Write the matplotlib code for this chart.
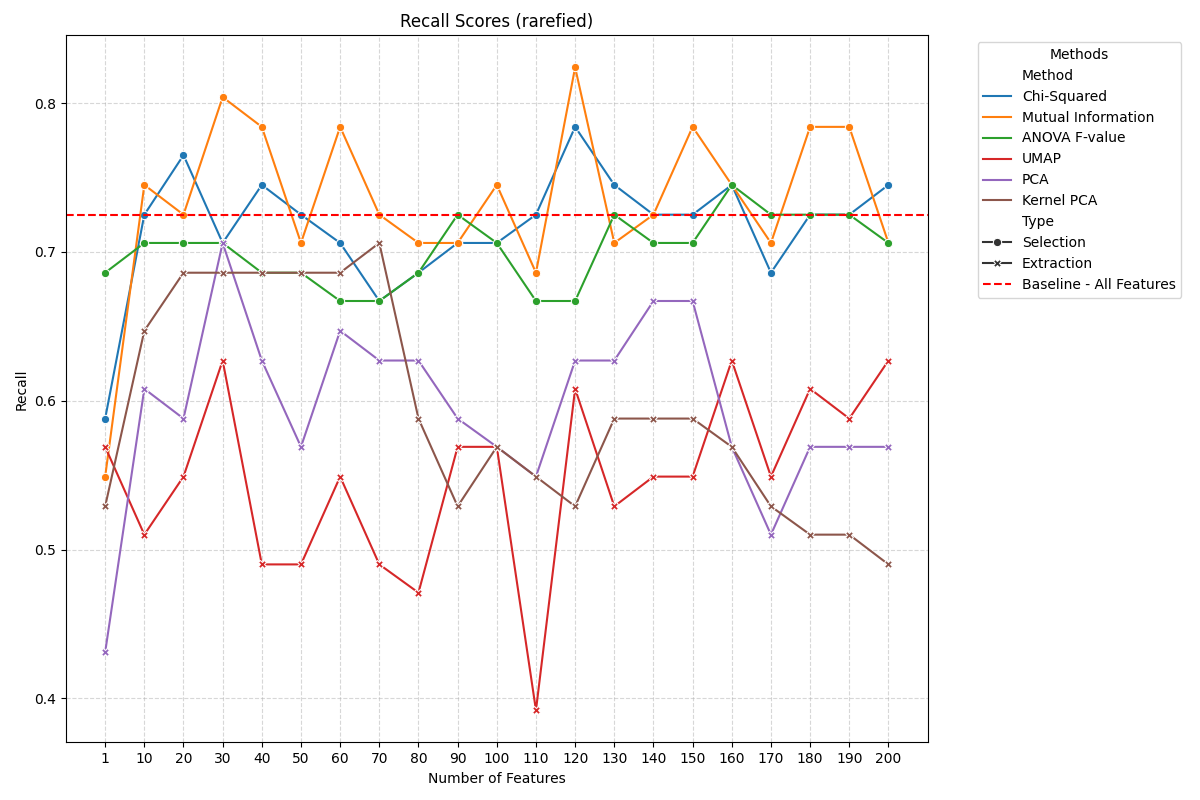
import numpy as np
import pandas as pd
import matplotlib
matplotlib.use("Agg")
import matplotlib.pyplot as plt
import seaborn as sns

n_features = [1, 10, 20, 30, 40, 50, 60, 70, 80, 90, 100, 110, 120, 130, 140, 150, 160, 170, 180, 190, 200]

chi_squared = [0.588, 0.725, 0.765, 0.706, 0.745, 0.725, 0.706, 0.667, 0.686, 0.706, 0.706,
               0.725, 0.784, 0.745, 0.725, 0.725, 0.745, 0.686, 0.725, 0.725, 0.745]
mutual_info = [0.549, 0.745, 0.725, 0.804, 0.784, 0.706, 0.784, 0.725, 0.706, 0.706, 0.745,
               0.686, 0.824, 0.706, 0.725, 0.784, 0.745, 0.706, 0.784, 0.784, 0.706]
anova = [0.686, 0.706, 0.706, 0.706, 0.686, 0.686, 0.667, 0.667, 0.686, 0.725, 0.706,
         0.667, 0.667, 0.725, 0.706, 0.706, 0.745, 0.725, 0.725, 0.725, 0.706]
umap = [0.569, 0.510, 0.549, 0.627, 0.490, 0.490, 0.549, 0.490, 0.471, 0.569, 0.569,
        0.392, 0.608, 0.529, 0.549, 0.549, 0.627, 0.549, 0.608, 0.588, 0.627]
pca = [0.431, 0.608, 0.588, 0.706, 0.627, 0.569, 0.647, 0.627, 0.627, 0.588, 0.569,
       0.549, 0.627, 0.627, 0.667, 0.667, 0.569, 0.510, 0.569, 0.569, 0.569]
kernel_pca = [0.529, 0.647, 0.686, 0.686, 0.686, 0.686, 0.686, 0.706, 0.588, 0.529, 0.569,
              0.549, 0.529, 0.588, 0.588, 0.588, 0.569, 0.529, 0.510, 0.510, 0.490]

baseline = 0.725

methods = {
    "Chi-Squared": (chi_squared, "Selection"),
    "Mutual Information": (mutual_info, "Selection"),
    "ANOVA F-value": (anova, "Selection"),
    "UMAP": (umap, "Extraction"),
    "PCA": (pca, "Extraction"),
    "Kernel PCA": (kernel_pca, "Extraction"),
}

rows = []
for name, (vals, kind) in methods.items():
    for i, v in enumerate(vals):
        rows.append({"pos": i, "Recall": v, "Method": name, "Type": kind})
df = pd.DataFrame(rows)

fig, ax = plt.subplots(figsize=(12, 8), dpi=100)
sns.lineplot(data=df, x="pos", y="Recall", hue="Method", style="Type",
             markers=True, dashes=False, ax=ax)
ax.axhline(baseline, color="red", linestyle="--", linewidth=1.5, label="Baseline - All Features")

ax.set_xticks(range(len(n_features)))
ax.set_xticklabels([str(n) for n in n_features])
ax.set_title("Recall Scores (rarefied)")
ax.set_xlabel("Number of Features")
ax.set_ylabel("Recall")
ax.grid(True, linestyle="--", alpha=0.5)
ax.legend(title="Methods", bbox_to_anchor=(1.05, 1), loc="upper left")

fig.subplots_adjust(left=0.055, right=0.773, top=0.956, bottom=0.072)
fig.savefig("out.png", dpi=100)
